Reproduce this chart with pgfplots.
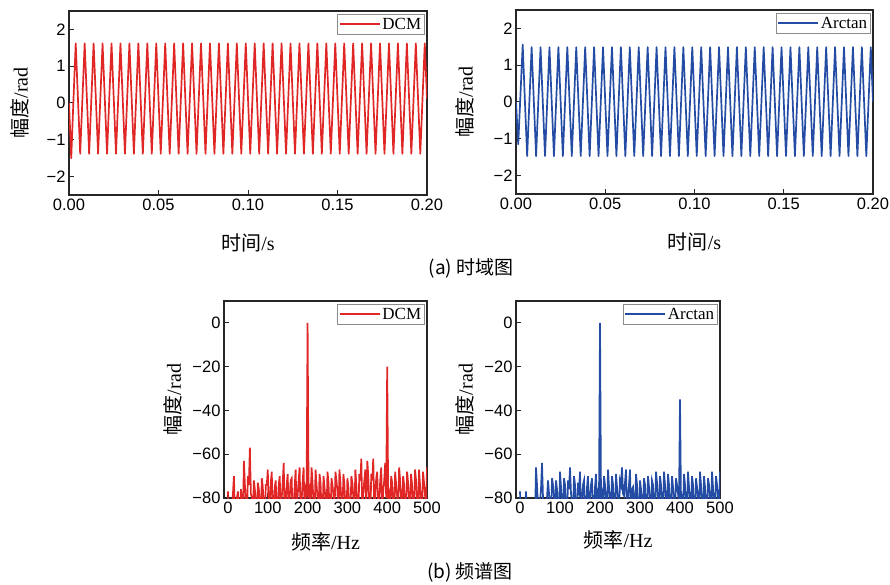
\documentclass[border=0pt]{standalone}
\usepackage{pgfplots}
\pgfplotsset{compat=1.18}
\usepackage{pgfplotstable}
\usepackage{fontspec}
\setmainfont{Liberation Serif}
\setsansfont{Liberation Sans}
\newfontfamily\cjk{Noto Sans CJK SC}
\definecolor{dcmred}{RGB}{225,38,38}
\definecolor{arcblue}{RGB}{36,76,165}

\pgfplotstableread{
t dcm arc
0 0 0
0.00125 -1.50 -1.15
0.0025 0.10 0.20
0.00375 1.62 1.56
0.005 0.12 0.01
0.00625 -1.38 -1.47
0.0075 0.12 0.01
0.00875 1.62 1.49
0.01 0.12 0.01
0.01125 -1.38 -1.47
0.0125 0.12 0.01
0.01375 1.62 1.49
0.015 0.12 0.01
0.01625 -1.38 -1.47
0.0175 0.12 0.01
0.01875 1.62 1.49
0.02 0.12 0.01
0.02125 -1.38 -1.47
0.0225 0.12 0.01
0.02375 1.62 1.49
0.025 0.12 0.01
0.02625 -1.38 -1.47
0.0275 0.12 0.01
0.02875 1.62 1.49
0.03 0.12 0.01
0.03125 -1.38 -1.47
0.0325 0.12 0.01
0.03375 1.62 1.49
0.035 0.12 0.01
0.03625 -1.38 -1.47
0.0375 0.12 0.01
0.03875 1.62 1.49
0.04 0.12 0.01
0.04125 -1.38 -1.47
0.0425 0.12 0.01
0.04375 1.62 1.49
0.045 0.12 0.01
0.04625 -1.38 -1.47
0.0475 0.12 0.01
0.04875 1.62 1.49
0.05 0.12 0.01
0.05125 -1.38 -1.47
0.0525 0.12 0.01
0.05375 1.62 1.49
0.055 0.12 0.01
0.05625 -1.38 -1.47
0.0575 0.12 0.01
0.05875 1.62 1.49
0.06 0.12 0.01
0.06125 -1.38 -1.47
0.0625 0.12 0.01
0.06375 1.62 1.49
0.065 0.12 0.01
0.06625 -1.38 -1.47
0.0675 0.12 0.01
0.06875 1.62 1.49
0.07 0.12 0.01
0.07125 -1.38 -1.47
0.0725 0.12 0.01
0.07375 1.62 1.49
0.075 0.12 0.01
0.07625 -1.38 -1.47
0.0775 0.12 0.01
0.07875 1.62 1.49
0.08 0.12 0.01
0.08125 -1.38 -1.47
0.0825 0.12 0.01
0.08375 1.62 1.49
0.085 0.12 0.01
0.08625 -1.38 -1.47
0.0875 0.12 0.01
0.08875 1.62 1.49
0.09 0.12 0.01
0.09125 -1.38 -1.47
0.0925 0.12 0.01
0.09375 1.62 1.49
0.095 0.12 0.01
0.09625 -1.38 -1.47
0.0975 0.12 0.01
0.09875 1.62 1.49
0.1 0.12 0.01
0.10125 -1.38 -1.47
0.1025 0.12 0.01
0.10375 1.62 1.49
0.105 0.12 0.01
0.10625 -1.38 -1.47
0.1075 0.12 0.01
0.10875 1.62 1.49
0.11 0.12 0.01
0.11125 -1.38 -1.47
0.1125 0.12 0.01
0.11375 1.62 1.49
0.115 0.12 0.01
0.11625 -1.38 -1.47
0.1175 0.12 0.01
0.11875 1.62 1.49
0.12 0.12 0.01
0.12125 -1.38 -1.47
0.1225 0.12 0.01
0.12375 1.62 1.49
0.125 0.12 0.01
0.12625 -1.38 -1.47
0.1275 0.12 0.01
0.12875 1.62 1.49
0.13 0.12 0.01
0.13125 -1.38 -1.47
0.1325 0.12 0.01
0.13375 1.62 1.49
0.135 0.12 0.01
0.13625 -1.38 -1.47
0.1375 0.12 0.01
0.13875 1.62 1.49
0.14 0.12 0.01
0.14125 -1.38 -1.47
0.1425 0.12 0.01
0.14375 1.62 1.49
0.145 0.12 0.01
0.14625 -1.38 -1.47
0.1475 0.12 0.01
0.14875 1.62 1.49
0.15 0.12 0.01
0.15125 -1.38 -1.47
0.1525 0.12 0.01
0.15375 1.62 1.49
0.155 0.12 0.01
0.15625 -1.38 -1.47
0.1575 0.12 0.01
0.15875 1.62 1.49
0.16 0.12 0.01
0.16125 -1.38 -1.47
0.1625 0.12 0.01
0.16375 1.62 1.49
0.165 0.12 0.01
0.16625 -1.38 -1.47
0.1675 0.12 0.01
0.16875 1.62 1.49
0.17 0.12 0.01
0.17125 -1.38 -1.47
0.1725 0.12 0.01
0.17375 1.62 1.49
0.175 0.12 0.01
0.17625 -1.38 -1.47
0.1775 0.12 0.01
0.17875 1.62 1.49
0.18 0.12 0.01
0.18125 -1.38 -1.47
0.1825 0.12 0.01
0.18375 1.62 1.49
0.185 0.12 0.01
0.18625 -1.38 -1.47
0.1875 0.12 0.01
0.18875 1.62 1.49
0.19 0.12 0.01
0.19125 -1.38 -1.47
0.1925 0.12 0.01
0.19375 1.62 1.49
0.195 0.12 0.01
0.19625 -1.38 -1.47
0.1975 0.12 0.01
0.19875 1.62 1.49
0.2 0.12 0.01
}\timedata

\pgfplotstableread{
f dcm arc
0 -77 -77
2.5 -90 -90
5 -86 -88
7.5 -90 -90
10 -84 -88
12.5 -78 -90
15 -70 -77
17.5 -90 -90
20 -86 -90
22.5 -80 -90
25 -77 -90
27.5 -90 -90
30 -88 -90
32.5 -76 -90
35 -80 -88
37.5 -90 -90
40 -63 -66
42.5 -74 -74
45 -82 -84
47.5 -90 -90
50 -70 -82
52.5 -74 -76
55 -57 -64
57.5 -78 -80
60 -80 -84
62.5 -90 -90
65 -72 -88
67.5 -76 -80
70 -84 -72
72.5 -90 -78
75 -73 -84
77.5 -76 -90
80 -82 -71
82.5 -90 -74
85 -71 -80
87.5 -75 -88
90 -86 -72
92.5 -90 -76
95 -74 -85
97.5 -74 -90
100 -67 -68
102.5 -88 -75
105 -82 -82
107.5 -73 -88
110 -68 -71
112.5 -90 -74
115 -84 -84
117.5 -75 -90
120 -72 -72
122.5 -90 -76
125 -83 -66
127.5 -74 -78
130 -70 -82
132.5 -88 -88
135 -80 -70
137.5 -73 -74
140 -64 -84
142.5 -90 -90
145 -82 -73
147.5 -74 -76
150 -69 -68
152.5 -88 -88
155 -80 -82
157.5 -72 -74
160 -71 -72
162.5 -90 -90
165 -84 -84
167.5 -75 -75
170 -67 -70
172.5 -88 -88
175 -79 -80
177.5 -72 -74
180 -66 -71
182.5 -90 -90
185 -81 -84
187.5 -73 -75
190 -66 -69
192.5 -88 -88
195 -76 -78
197.5 -78 -80
200 0 0
202.5 -78 -80
205 -76 -78
207.5 -86 -88
210 -66 -70
212.5 -73 -74
215 -83 -82
217.5 -90 -90
220 -67 -67
222.5 -74 -75
225 -80 -80
227.5 -88 -88
230 -69 -70
232.5 -73 -74
235 -85 -83
237.5 -90 -90
240 -70 -69
242.5 -75 -75
245 -81 -80
247.5 -88 -88
250 -68 -72
252.5 -73 -74
255 -84 -66
257.5 -90 -78
260 -71 -79
262.5 -74 -73
265 -79 -67
267.5 -88 -88
270 -68 -80
272.5 -72 -74
275 -77 -67
277.5 -90 -90
280 -67 -76
282.5 -73 -75
285 -82 -82
287.5 -88 -88
290 -69 -69
292.5 -74 -74
295 -84 -84
297.5 -90 -90
300 -71 -72
302.5 -75 -76
305 -86 -82
307.5 -88 -88
310 -70 -71
312.5 -73 -74
315 -80 -84
317.5 -90 -90
320 -67 -70
322.5 -74 -75
325 -84 -80
327.5 -88 -88
330 -69 -72
332.5 -72 -74
335 -62 -84
337.5 -88 -90
340 -78 -68
342.5 -72 -73
345 -67 -80
347.5 -86 -88
350 -63 -70
352.5 -70 -74
355 -82 -82
357.5 -90 -90
360 -69 -68
362.5 -72 -74
365 -62 -80
367.5 -86 -88
370 -78 -69
372.5 -71 -74
375 -68 -83
377.5 -90 -90
380 -81 -70
382.5 -72 -75
385 -66 -80
387.5 -86 -88
390 -77 -71
392.5 -72 -74
395 -64 -78
397.5 -80 -82
400 -20 -35
402.5 -80 -82
405 -78 -78
407.5 -88 -88
410 -70 -69
412.5 -73 -74
415 -82 -82
417.5 -90 -90
420 -68 -68
422.5 -74 -75
425 -79 -80
427.5 -88 -88
430 -66 -70
432.5 -72 -74
435 -80 -84
437.5 -90 -90
440 -70 -71
442.5 -74 -75
445 -84 -80
447.5 -88 -88
450 -68 -68
452.5 -73 -74
455 -80 -82
457.5 -90 -90
460 -69 -70
462.5 -74 -75
465 -82 -84
467.5 -88 -88
470 -67 -71
472.5 -72 -74
475 -80 -80
477.5 -90 -90
480 -67 -68
482.5 -74 -75
485 -82 -82
487.5 -88 -88
490 -68 -70
492.5 -73 -74
495 -78 -79
497.5 -88 -88
500 -66 -68
}\specdata

\pgfplotsset{
  every axis/.append style={
    scale only axis,
    axis line style={line width=1.3pt, black!85},
    tick align=inside,
    xtick pos=left, ytick pos=left,
    tick style={line width=1pt, black!85},
    major tick length=5pt,
    tick label style={font=\sffamily\fontsize{16.5}{16.5}\selectfont},
    label style={font=\fontsize{20}{20}\selectfont},
    legend style={at={(1,1)}, xshift=-2pt, yshift=-3pt, anchor=north east,
      draw=black!45, line width=0.6pt, font=\fontsize{17}{17}\selectfont,
      inner sep=1.5pt, row sep=0pt},
    legend image code/.code={\draw[#1, line width=1.5pt] (0pt,0pt) -- (40pt,0pt);},
  },
}

\begin{document}
\begin{tikzpicture}
\useasboundingbox (0pt,0pt) rectangle (890pt,584pt);

\begin{axis}[at={(69pt,389pt)}, anchor=south west, width=358pt, height=184pt,
  xmin=0, xmax=0.2, ymin=-2.5, ymax=2.5,
  xtick={0,0.05,0.1,0.15,0.2}, xticklabels={0.00,0.05,0.10,0.15,0.20},
  ytick={-2,-1,0,1,2}, yticklabels={−2,−1,0,1,2},
  xlabel={{\cjk 时间}/s}, ylabel={{\cjk 幅度}/rad},
  xlabel style={at={(axis description cs:0.5,-0.262)}, anchor=center},
  ylabel style={at={(axis description cs:-0.137,0.5)}, anchor=center}]
\addplot[dcmred, line width=1.7pt, line join=round] table[x=t,y=dcm]{\timedata};
\legend{DCM}
\end{axis}

\begin{axis}[at={(516pt,390pt)}, anchor=south west, width=357pt, height=184pt,
  xmin=0, xmax=0.2, ymin=-2.5, ymax=2.5,
  xtick={0,0.05,0.1,0.15,0.2}, xticklabels={0.00,0.05,0.10,0.15,0.20},
  ytick={-2,-1,0,1,2}, yticklabels={−2,−1,0,1,2},
  xlabel={{\cjk 时间}/s}, ylabel={{\cjk 幅度}/rad},
  xlabel style={at={(axis description cs:0.5,-0.262)}, anchor=center},
  ylabel style={at={(axis description cs:-0.143,0.5)}, anchor=center}]
\addplot[arcblue, line width=1.7pt, line join=round] table[x=t,y=arc]{\timedata};
\legend{Arctan}
\end{axis}

\begin{axis}[at={(224pt,86pt)}, anchor=south west, width=203pt, height=197pt,
  xmin=-10, xmax=500, ymin=-80, ymax=10,
  xtick={0,100,200,300,400,500}, xticklabels={0,100,200,300,400,500},
  ytick={-80,-60,-40,-20,0}, yticklabels={−80,−60,−40,−20,0},
  xlabel={{\cjk 频率}/Hz}, ylabel={{\cjk 幅度}/rad},
  xlabel style={at={(axis description cs:0.5,-0.225)}, anchor=center},
  ylabel style={at={(axis description cs:-0.25,0.5)}, anchor=center}]
\addplot[dcmred, line width=1.7pt] table[x=f,y=dcm]{\specdata};
\legend{DCM}
\end{axis}

\begin{axis}[at={(516pt,86pt)}, anchor=south west, width=204pt, height=197pt,
  xmin=-10, xmax=500, ymin=-80, ymax=10,
  xtick={0,100,200,300,400,500}, xticklabels={0,100,200,300,400,500},
  ytick={-80,-60,-40,-20,0}, yticklabels={−80,−60,−40,−20,0},
  xlabel={{\cjk 频率}/Hz}, ylabel={{\cjk 幅度}/rad},
  xlabel style={at={(axis description cs:0.5,-0.215)}, anchor=center},
  ylabel style={at={(axis description cs:-0.25,0.5)}, anchor=center}]
\addplot[arcblue, line width=1.7pt] table[x=f,y=arc]{\specdata};
\legend{Arctan}
\end{axis}

\node[font=\cjk\fontsize{19}{19}\selectfont] at (471pt,316pt) {(a) 时域图};
\node[font=\cjk\fontsize{19}{19}\selectfont] at (470pt,12pt) {(b) 频谱图};
\end{tikzpicture}
\end{document}
